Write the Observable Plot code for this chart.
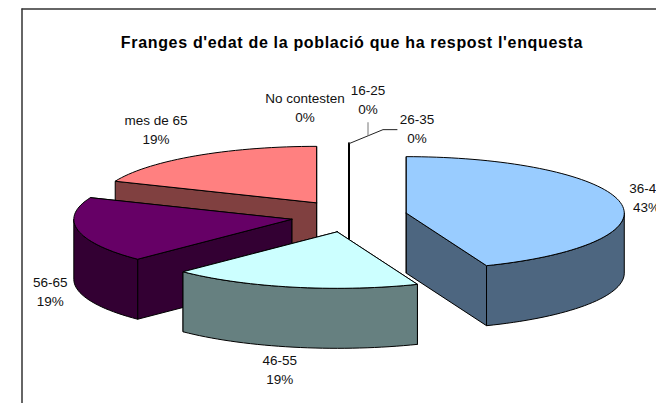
<!DOCTYPE html>
<html>
<head>
<meta charset="utf-8">
<script src="https://cdn.jsdelivr.net/npm/d3@7"></script>
<script src="https://cdn.jsdelivr.net/npm/@observablehq/plot@0.6"></script>
<style>
html,body{margin:0;padding:0;background:#fff;overflow:hidden}
svg{display:block}
</style>
</head>
<body>
<div id="chart"></div>
<script>
const chartTitle = "Franges d'edat de la població que ha respost l'enquesta";
const categories = ["16-25", "26-35", "36-45", "46-55", "56-65", "mes de 65", "No contesten"];
const responses = [0, 0, 7.04, 2.96, 3, 3, 0];
const percentLabels = ["0%", "0%", "43%", "19%", "19%", "19%", "0%"];
const topColors = ["#9999FF", "#993366", "#99CCFF", "#CCFFFF", "#660066", "#FF8080", "#0066CC"];
const sideColors = ["#4D4D80", "#4D1A33", "#4D6680", "#668080", "#330033", "#804040", "#003366"];
// Label offset from the slice's rim point at its mid angle
const labelDx = [19, 68, 26, -13.3, -27.8, -39.6, -44];
const labelDy = [-45, -16.7, -6, 81.2, 59.7, -27.4, -37.1];

// Pie projection
const cx = 348.5, cy = 215.65, rx = 218, ry = 56.5, depth = 60;
const explodeX = 58.3, explodeY = 16;
const W = 656, H = 403;

const total = d3.sum(responses);
let acc = 0;
const slices = categories.map((name, i) => {
  const a0 = acc / total * 360;
  acc += responses[i];
  const a1 = acc / total * 360;
  const mid = (a0 + a1) / 2;
  const rad = mid * Math.PI / 180;
  const c = [cx + explodeX * Math.sin(rad), cy - explodeY * Math.cos(rad)];
  return {name, i, a0, a1, mid, c};
});
const rim = (s, a, z = 0) => {
  const r = a * Math.PI / 180;
  return [s.c[0] + rx * Math.sin(r), s.c[1] - ry * Math.cos(r) + z];
};
const arc = (a0, a1) => {
  const n = Math.max(1, Math.ceil((a1 - a0) / 2));
  return d3.range(n + 1).map(k => a0 + (a1 - a0) * k / n);
};

const rows = [];
const addFace = (key, pts, fill, empty) => {
  pts.concat([pts[0]]).forEach(p => rows.push({key, x: p[0], y: p[1], fill, empty}));
};
const order = slices.slice().sort((a, b) => a.c[1] - b.c[1]);
for (const s of order) {
  const side = sideColors[s.i];
  const empty = responses[s.i] === 0;
  const cuts = [s.a0, s.a1].map(a => {
    const p = rim(s, a);
    return {a, midY: (p[1] + s.c[1]) / 2};
  }).sort((u, v) => u.midY - v.midY);
  cuts.forEach((cut, k) => {
    addFace(`${s.name}-cut${k}`, [s.c, rim(s, cut.a), rim(s, cut.a, depth), [s.c[0], s.c[1] + depth]], side, empty);
  });
  const w0 = Math.max(s.a0, 90), w1 = Math.min(s.a1, 270);
  if (w1 > w0) {
    const angles = arc(w0, w1);
    addFace(`${s.name}-wall`,
      angles.map(a => rim(s, a)).concat(angles.slice().reverse().map(a => rim(s, a, depth))), side, empty);
  }
  addFace(`${s.name}-top`, [s.c].concat(arc(s.a0, s.a1).map(a => rim(s, a))), topColors[s.i], empty);
}

const labels = slices.map(s => {
  const p = rim(s, s.mid);
  return {text: `${s.name}\n${percentLabels[s.i]}`, x: p[0] + labelDx[s.i], y: p[1] + labelDy[s.i]};
});

// Leader lines start at the zero slices' rim point
const zeroRim = rim(slices[0], 0);
const leaderMain = [[0, 0], [34, -14], [48, -14]].map(d => ({x: zeroRim[0] + d[0], y: zeroRim[1] + d[1]}));
const leaderUp = [[19, -8], [19, -21]].map(d => ({x: zeroRim[0] + d[0], y: zeroRim[1] + d[1]}));

const font = "'Liberation Sans', Arial, sans-serif";
const plot = Plot.plot({
  width: W, height: H,
  margin: 0,
  x: {domain: [0, W], range: [0, W], axis: null},
  y: {domain: [0, H], range: [0, H], axis: null},
  style: {background: "#fff", fontFamily: font},
  marks: [
    Plot.ruleY([8.5], {x1: 21.5, x2: W, stroke: "#333", strokeWidth: 1.5}),
    Plot.ruleX([21.5], {y1: 8.5, y2: H, stroke: "#333", strokeWidth: 1.5}),
    Plot.line(rows.filter(d => d.empty), {x: "x", y: "y", z: "key", fill: "fill", stroke: "#000", strokeWidth: 1.8}),
    Plot.line(rows.filter(d => !d.empty), {x: "x", y: "y", z: "key", fill: "fill", stroke: "#000", strokeWidth: 1, strokeLinejoin: "round"}),
    Plot.line(leaderMain, {x: "x", y: "y", stroke: "#222", strokeWidth: 1}),
    Plot.line(leaderUp, {x: "x", y: "y", stroke: "#777", strokeWidth: 1}),
    Plot.text(labels, {x: "x", y: "y", text: "text", fontSize: 13.5, lineHeight: 1.42, fill: "#111", textAnchor: "middle"}),
    Plot.text([chartTitle], {frameAnchor: "top", dx: 23.5, dy: 36, fontSize: 16, fontWeight: "bold", fill: "#000", style: {letterSpacing: "0.67px"}})
  ]
});
plot.querySelectorAll("text").forEach(t => {
  if (t.textContent === chartTitle || t.querySelector("tspan")?.textContent === chartTitle) t.style.letterSpacing = "0.67px";
});
document.getElementById("chart").appendChild(plot);
</script>
</body>
</html>
